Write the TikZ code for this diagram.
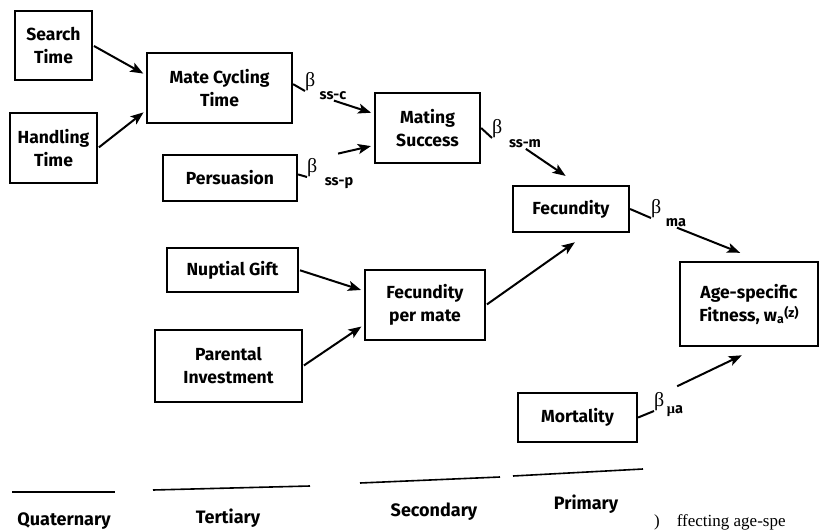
\documentclass[tikz,border=0pt]{standalone}
\usepackage{fontspec}
\setmainfont{Fira Sans}
\newfontfamily\pagefont{Liberation Serif}
\usetikzlibrary{arrows.meta, positioning, calc}

\begin{document}
\begin{tikzpicture}[x=1pt, y=-1pt,
    >={Stealth[length=13pt, width=10pt, inset=3pt]},
    factor/.style={draw, line width=2.2pt, inner sep=0pt, align=center,
        font=\bfseries\fontsize{17.5}{23}\selectfont},
    coef/.style={inner sep=0pt, anchor=south west, font=\pagefont\fontsize{20}{20}\selectfont},
    subcoef/.style={inner sep=0pt, font=\bfseries\fontsize{14.5}{14.5}\selectfont},
    stub/.style={line width=2pt},
    link/.style={->, line width=2pt, shorten >=3pt, shorten <=1pt},
    level/.style={anchor=base, font=\bfseries\fontsize{18}{18}\selectfont},
    rule/.style={line width=1.6pt}]
    \useasboundingbox (0,0) rectangle (819,530);

    % Quaternary factors
    \node[factor, minimum width=77pt, minimum height=69pt] (search) at (53.5,45.5) {Search\\Time};
    \node[factor, minimum width=87pt, minimum height=70pt] (handling) at (53.5,148) {Handling\\Time};

    % Tertiary factors
    \node[factor, minimum width=145pt, minimum height=70pt] (cycling) at (219.5,88) {Mate Cycling\\Time};
    \node[factor, minimum width=134pt, minimum height=46pt] (persuasion) at (230,178) {Persuasion};
    \node[factor, minimum width=131pt, minimum height=44pt] (nuptial) at (232.5,270) {Nuptial Gift};
    \node[factor, minimum width=147pt, minimum height=72pt] (parental) at (228.5,366) {Parental\\Investment};

    % Secondary factors
    \node[factor, minimum width=105pt, minimum height=70pt] (mating) at (427.5,128) {Mating\\Success};
    \node[factor, minimum width=120pt, minimum height=70pt] (permate) at (425,305) {Fecundity\\per mate};

    % Primary factors
    \node[factor, minimum width=116pt, minimum height=46pt] (fecundity) at (571,209) {Fecundity};
    \node[factor, minimum width=119pt, minimum height=49pt] (mortality) at (577.5,417.5) {Mortality};

    % Fitness
    \node[factor, minimum width=138pt, minimum height=84pt] (fitness) at (749,304)
        {Age-specific\\Fitness, w\textsubscript{a}\raisebox{0.35ex}{\fontsize{13}{13}\selectfont(z)}};

    % Selection gradients
    \node[coef] (bc) at (305,91) {β};
    \node[subcoef] (sc) at (333,96) {ss-c};
    \node[coef] (bp) at (307,177) {β};
    \node[subcoef] (sp) at (339,183) {ss-p};
    \node[coef] (bm) at (492,138) {β};
    \node[subcoef] (sm) at (525,144) {ss-m};
    \node[coef] (ba) at (651,218) {β};
    \node[subcoef] (sa) at (676,223) {ma};
    \node[coef] (bu) at (654,411) {β};
    \node[subcoef] (su) at (675,411) {{\pagefont μ}a};

    % Paths
    \draw[link] (search.east) -- (cycling.170);
    \draw[link] (handling.east) -- (cycling.197);
    \draw[stub] (cycling.3) -- (bc.south west);
    \draw[link] (sc.south) -- (mating.165);
    \draw[stub] (persuasion.3) -- (bp.south west);
    \draw[link, shorten <=21pt] (bp.north east) -- (mating.198);
    \draw[link] (nuptial.east) -- (permate.167);
    \draw[link] (parental.east) -- (permate.198);
    \draw[stub] (mating.east) -- (bm.south west);
    \draw[link, shorten >=16pt] (sm.south) -- (fecundity.72);
    \draw[link, shorten >=16pt] (permate.east) -- (fecundity.305);
    \draw[stub] (fecundity.east) -- (ba.south west);
    \draw[link, shorten >=22pt] (sa.south) -- (fitness.75);
    \draw[stub] (mortality.east) -- (bu.south west);
    \draw[link, shorten <=14pt, shorten >=19pt] (bu.north east) -- (fitness.283);

    % Levels
    \draw[rule] (12,492) -- (115,492);
    \draw[rule] (153,490) -- (310,486);
    \draw[rule] (360,483) -- (500,477);
    \draw[rule] (513,476) -- (643,469);
    \node[level] (quaternary) at (64,525) {Quaternary};
    \node[level] (tertiary) at (228,523) {Tertiary};
    \node[level] (secondary) at (434,516) {Secondary};
    \node[level] (primary) at (586,509) {Primary};

    % Page text below
    \node[anchor=base west, inner sep=0pt, font=\pagefont\fontsize{17}{17}\selectfont] (pagetext) at (654,526)
        {)\hspace{17pt}ffecting age-spe};
\end{tikzpicture}
\end{document}
